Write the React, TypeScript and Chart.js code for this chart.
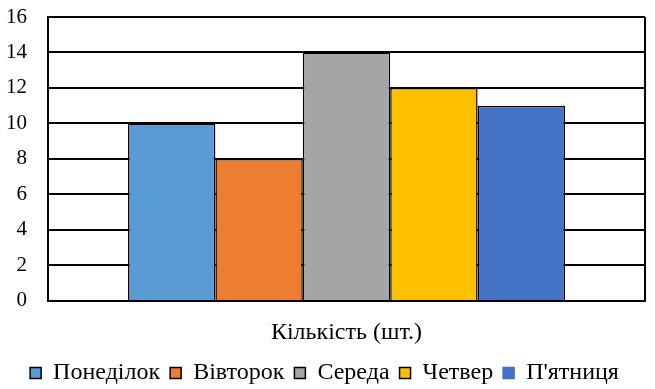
import React, { useEffect, useRef } from "react";
import { Chart, registerables } from "chart.js";

Chart.register(...registerables);

const categories = ["Кількість (шт.)"];
const seriesNames = ["Понеділок", "Вівторок", "Середа", "Четвер", "П'ятниця"];
const seriesValues = [[10], [8], [14], [12], [11]];
const seriesColors = ["#5B9BD5", "#ED7D31", "#A5A5A5", "#FFC000", "#4472C4"];
const yMin = 0;
const yMax = 16;
const yStep = 2;

const FONT = "'Liberation Serif', 'Times New Roman', serif";
Chart.defaults.font.family = FONT;
Chart.defaults.color = "#000";

export default function App() {
  const ref = useRef<HTMLCanvasElement | null>(null);
  useEffect(() => {
    document.body.style.margin = "0";
    const chart = new Chart(ref.current!, {
      type: "bar",
      data: {
        labels: categories,
        datasets: seriesNames.map((name, i) => ({
          label: name,
          data: seriesValues[i],
          backgroundColor: seriesColors[i],
          borderColor: "#000000",
          borderWidth: 1.5,
          barPercentage: 1,
          categoryPercentage: 0.732,
        })),
      },
      options: {
        animation: false,
        responsive: false,
        maintainAspectRatio: false,
        layout: { padding: { left: 4, right: 10, top: 17, bottom: -6 } },
        plugins: {
          tooltip: { enabled: false },
          legend: {
            position: "bottom",
            labels: {
              color: "#000",
              font: { family: FONT, size: 24 },
              boxWidth: 11,
              boxHeight: 11,
              padding: 10,
              generateLabels: (c: any) =>
                c.data.datasets.map((ds: any, i: number) => ({
                  text: ds.label,
                  fillStyle: ds.backgroundColor,
                  strokeStyle: i === 4 ? ds.backgroundColor : "#000",
                  lineWidth: 1.5,
                  hidden: false,
                  datasetIndex: i,
                  fontColor: "#000",
                })),
            },
          },
        },
        scales: {
          x: {
            grid: {
              display: true,
              color: "#000",
              lineWidth: 2,
              drawTicks: true,
              tickLength: 13,
              tickColor: "rgba(0,0,0,0)",
              offset: true,
            },
            border: { display: true, color: "#000", width: 2 },
            ticks: { color: "#000", font: { family: FONT, size: 24, lineHeight: 1.38 }, padding: 2 },
          },
          y: {
            min: yMin,
            max: yMax,
            grid: {
              color: "#000",
              lineWidth: 2,
              drawTicks: true,
              tickLength: 19,
              tickColor: "rgba(0,0,0,0)",
            },
            border: { display: true, color: "#000", width: 2 },
            ticks: {
              stepSize: yStep,
              color: "#000",
              font: { family: FONT, size: 21 },
              padding: 2,
            },
          },
        },
      },
    });
    return () => chart.destroy();
  }, []);
  return (
    <div style={{ position: "absolute", left: 0, top: 0, width: 655, height: 389 }}>
      <canvas ref={ref} width={655} height={389} />
    </div>
  );
}
